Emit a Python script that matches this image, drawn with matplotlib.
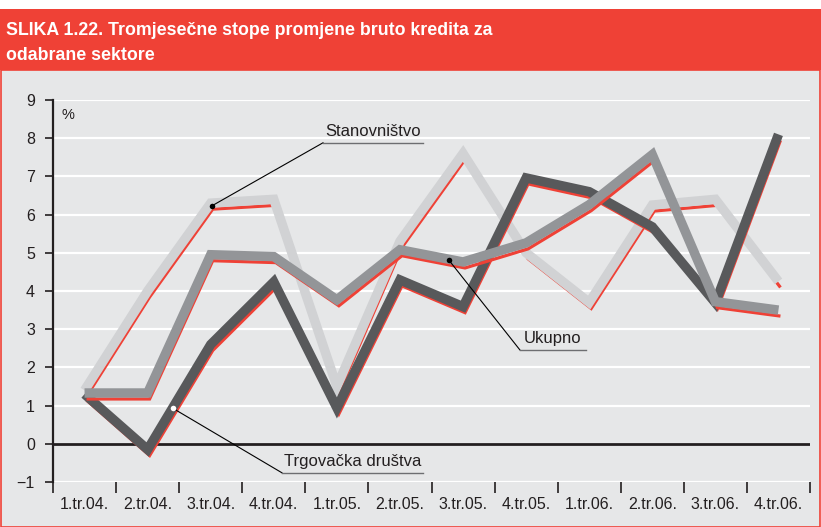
import matplotlib
matplotlib.use("Agg")
import matplotlib.pyplot as plt
import matplotlib.transforms as mtransforms
from matplotlib.patches import Rectangle
import numpy as np

# Podaci (procjena s grafikona)
kvartali = ["1.tr.04.", "2.tr.04.", "3.tr.04.", "4.tr.04.", "1.tr.05.", "2.tr.05.",
            "3.tr.05.", "4.tr.05.", "1.tr.06.", "2.tr.06.", "3.tr.06.", "4.tr.06."]
stanovnistvo = [1.4, 4.0, 6.3, 6.4, 1.5, 5.3, 7.6, 5.0, 3.7, 6.25, 6.4, 4.25]
ukupno = [1.33, 1.33, 4.95, 4.9, 3.77, 5.08, 4.76, 5.26, 6.26, 7.57, 3.72, 3.5]
trgovacka = [1.3, -0.15, 2.6, 4.24, 0.94, 4.29, 3.59, 6.96, 6.6, 5.68, 3.69, 8.1]

CRVENA = "#ef4136"
POZADINA = "#e6e7e8"
TEKST = "#231f20"

plt.rcParams["font.family"] = ["Liberation Sans", "DejaVu Sans"]

fig = plt.figure(figsize=(8.21, 5.27), dpi=100, facecolor="white")

# siva pozadina s crvenim rubom i crveni naslovni pojas
fig.patches.append(Rectangle((0.001, 0.0), 0.998, (527 - 70) / 527, transform=fig.transFigure,
                             facecolor=POZADINA, edgecolor=CRVENA, linewidth=1.2, zorder=-10))
fig.patches.append(Rectangle((0.0, (527 - 70) / 527), 1.0, 61 / 527, transform=fig.transFigure,
                             facecolor=CRVENA, edgecolor="none", zorder=-10))
fig.text(6 / 821, 1 - 35 / 527, "SLIKA 1.22. Tromjesečne stope promjene bruto kredita za",
         color="white", fontsize=12.8, fontweight="bold", va="baseline")
fig.text(6 / 821, 1 - 60 / 527, "odabrane sektore",
         color="white", fontsize=12.8, fontweight="bold", va="baseline")

ax = fig.add_axes([53 / 821, (527 - 482) / 527, (810 - 53) / 821, (482 - 100) / 527])
ax.set_facecolor("none")

x = np.arange(len(kvartali))
ax.set_xlim(-0.5, len(kvartali) - 0.5)
ax.set_ylim(-1, 9)

# horizontalne bijele linije mreže
for v in range(-1, 10):
    ax.axhline(v, color="white", linewidth=1.6, zorder=1)
ax.axhline(0, color=TEKST, linewidth=2.0, zorder=2)

# crvena "sjena" pomaknuta dolje-desno, debela siva linija iznad nje
pomak = mtransforms.ScaledTranslation(2 / 100, -6 / 100, fig.dpi_scale_trans)
serije = [(stanovnistvo, "#d1d2d4"), (trgovacka, "#58595b"), (ukupno, "#939598")]
z = 3
for vrijednosti, boja in serije:
    ax.plot(x, vrijednosti, color=CRVENA, linewidth=2.3, transform=ax.transData + pomak,
            solid_joinstyle="miter", solid_capstyle="butt", zorder=z)
    ax.plot(x, vrijednosti, color=boja, linewidth=6.8,
            solid_joinstyle="miter", solid_capstyle="butt", zorder=z + 1)
    z += 2

# osi
for s in ["top", "right", "bottom"]:
    ax.spines[s].set_visible(False)
ax.spines["left"].set_color(TEKST)
ax.spines["left"].set_linewidth(1.6)
ax.spines["left"].set_zorder(20)

ax.set_yticks(range(-1, 10))
ax.set_yticklabels([str(v).replace("-", "\u2212") for v in range(-1, 10)])
ax.tick_params(axis="y", direction="out", length=6, width=1.2, color=TEKST,
               labelsize=11.5, labelcolor=TEKST, pad=7)

ax.set_xticks(x)
ax.set_xticklabels(kvartali)
ax.set_xticks(np.arange(-0.5, len(kvartali)), minor=True)
ax.tick_params(axis="x", which="major", length=0, labelsize=11.5, labelcolor=TEKST, pad=11)
ax.tick_params(axis="x", which="minor", direction="out", length=8, width=1.2, color=TEKST)
for t in ax.xaxis.get_minorticklines():
    t.set_clip_on(False)

ax.text(-0.26, 8.6, "%", fontsize=10.5, color=TEKST, ha="center", va="center")

# oznake serija
def oznaka(tocka, kraj, dulj, tekst, boja_tocke):
    ax.plot([tocka[0], kraj[0]], [tocka[1], kraj[1]], color="black", linewidth=0.8, zorder=30)
    ax.plot([kraj[0], dulj], [kraj[1], kraj[1]], color="#6d6e71", linewidth=1.0, zorder=30)
    ax.scatter([tocka[0]], [tocka[1]], s=16, color=boja_tocke, zorder=31, linewidths=0)
    ax.text((kraj[0] + dulj) / 2, kraj[1] + 0.1, tekst, fontsize=12, color=TEKST,
            ha="center", va="bottom", zorder=31)

oznaka((2.02, 6.23), (3.78, 7.88), 5.36, "Stanovništvo", "black")
oznaka((5.77, 4.82), (6.90, 2.46), 7.95, "Ukupno", "black")
oznaka((1.40, 0.93), (3.13, -0.76), 5.36, "Trgovačka društva", "white")

fig.savefig("out.png", dpi=100)
